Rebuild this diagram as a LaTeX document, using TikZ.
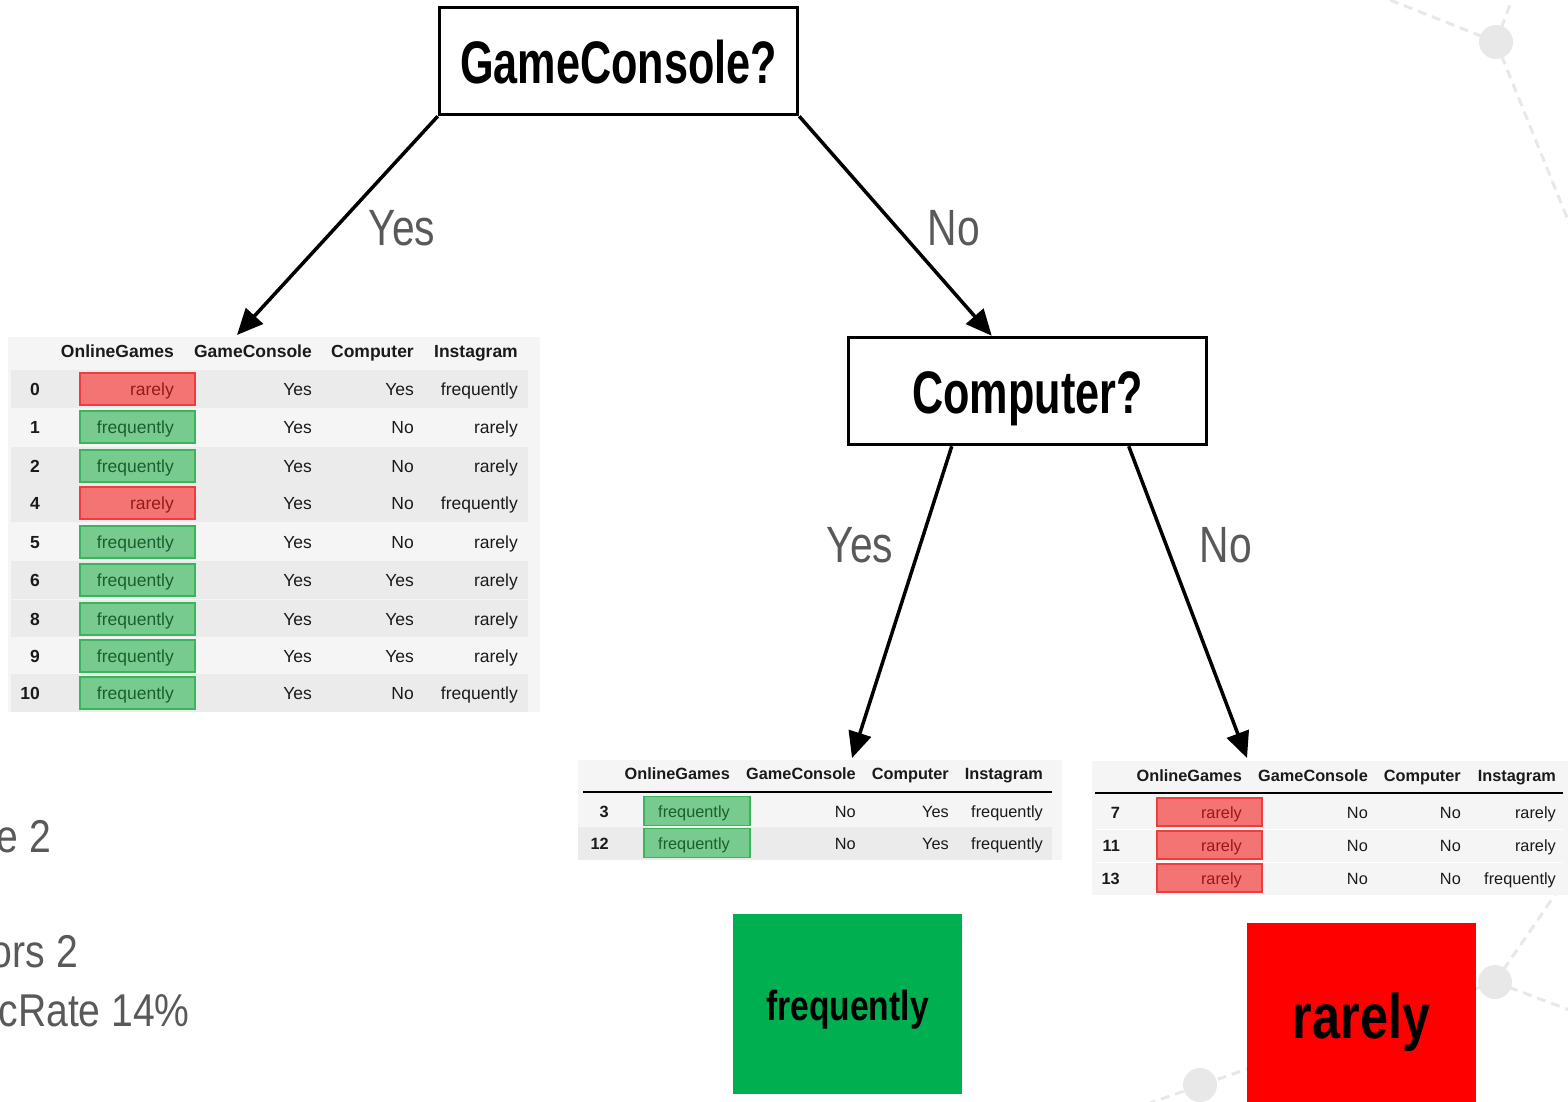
\documentclass[tikz,border=0pt]{standalone}
\usepackage{fontspec}
\setmainfont{Liberation Sans}
\newfontfamily\narrowfont[FakeStretch=0.72]{Liberation Sans}
\newfontfamily\labelfont[FakeStretch=0.8]{Liberation Sans}
\newfontfamily\notefont[FakeStretch=0.85]{Liberation Sans}
\newfontfamily\leaffont[FakeStretch=0.8]{Liberation Sans}
\usetikzlibrary{arrows.meta}

\definecolor{decogray}{HTML}{E8E8E8}
\definecolor{labelgray}{HTML}{595959}
\definecolor{bandd}{HTML}{EBEBEB}
\definecolor{bandl}{HTML}{F5F5F5}
\definecolor{redfill}{HTML}{F47373}
\definecolor{redline}{HTML}{F03C3C}
\definecolor{greenfill}{HTML}{78CB8F}
\definecolor{greenline}{HTML}{3BB55C}
\definecolor{txtrarely}{HTML}{951A1A}
\definecolor{txtfrequently}{HTML}{1C5E2E}
\definecolor{celltext}{HTML}{1A1A1A}
\definecolor{leafgreen}{HTML}{00B050}
\definecolor{leafred}{HTML}{FF0000}

\newcommand\tabfont{\fontsize{17.5}{20}\selectfont}

\begin{document}
\begin{tikzpicture}[x=1pt,y=-1pt,
  deco/.style={draw=decogray, line width=3pt, dash pattern=on 9pt off 6pt},
  decodot/.style={circle, fill=decogray, minimum size=34pt, inner sep=0pt},
  question/.style={draw=black, fill=white, line width=3.5pt, minimum width=358pt,
    minimum height=107pt, inner sep=0pt, text height=44pt, text depth=0pt,
    font=\narrowfont\bfseries\fontsize{60}{60}\selectfont},
  branch/.style={draw=black, line width=3.5pt, -{Triangle[length=26pt,width=23pt]}},
  branchlabel/.style={text=labelgray, anchor=base, inner sep=0pt,
    font=\labelfont\fontsize{51}{51}\selectfont},
  note/.style={text=labelgray, anchor=base east, inner sep=0pt,
    font=\notefont\fontsize{46}{46}\selectfont},
  leafbox/.style={inner sep=0pt, minimum width=229pt},
  leaftext/.style={anchor=base, inner sep=0pt, text=black},
  cell/.style={anchor=base east, inner sep=0pt, text=celltext, font=\tabfont},
  head/.style={cell, font=\tabfont\bfseries},
  idx/.style={cell, font=\tabfont\bfseries},
  box rarely/.style={draw=redline, fill=redfill, line width=1.2pt, inner sep=0pt},
  box frequently/.style={draw=greenline, fill=greenfill, line width=1.2pt, inner sep=0pt},
]
\useasboundingbox (0,0) rectangle (1568,1101);

% background network ornament
\draw[deco] (1496,42) -- (1380,-4);
\draw[deco] (1496,42) -- (1514,-6);
\draw[deco] (1496,42) -- (1576,240);
\draw[deco] (1495,982) -- (1572,870);
\draw[deco] (1495,982) -- (1580,1014);
\draw[deco] (1495,982) -- (1150,1103);
\node[decodot] (orn1) at (1496,42) {};
\node[decodot] (orn2) at (1495,982) {};
\node[decodot] (orn3) at (1200,1085) {};

% notes on the left margin
\node[note] (note1) at (51,852) {e 2};
\node[note] (note2) at (78,967) {ors 2};
\node[note] (note3) at (190,1026) {cRate 14\%};

% table: GameConsole = Yes
\begin{scope}
\fill[bandl] (8,337) rectangle (540,712);
\foreach \i/\yy/\c/\g/\p/\s/\b in {
  0/389/rarely/Yes/Yes/frequently/d,
  1/427/frequently/Yes/No/rarely/l,
  2/466/frequently/Yes/No/rarely/d,
  4/503/rarely/Yes/No/frequently/d,
  5/542/frequently/Yes/No/rarely/l,
  6/580/frequently/Yes/Yes/rarely/d,
  8/619/frequently/Yes/Yes/rarely/d,
  9/656/frequently/Yes/Yes/rarely/l,
  10/693/frequently/Yes/No/frequently/d} {
  \fill[band\b] (11,\yy-19) rectangle (528,\yy+19);
  \node[idx] (L\i-idx) at (40,\yy+6.5) {\i};
  \node[box \c, minimum width=115pt, minimum height=32pt] (L\i-box) at (137.5,\yy) {};
  \node[cell, text=txt\c] (L\i-og) at (174,\yy+6.5) {\c};
  \node[cell] (L\i-gc) at (312,\yy+6.5) {\g};
  \node[cell] (L\i-cp) at (414,\yy+6.5) {\p};
  \node[cell] (L\i-ig) at (518,\yy+6.5) {\s};
}
\node[head] (L-h-og) at (174,357) {OnlineGames};
\node[head] (L-h-gc) at (312,357) {GameConsole};
\node[head] (L-h-cp) at (414,357) {Computer};
\node[head] (L-h-ig) at (518,357) {Instagram};
\end{scope}

% table: GameConsole = No, Computer = Yes
\begin{scope}
\renewcommand\tabfont{\fontsize{16.3}{18}\selectfont}
\fill[bandl] (578,760) rectangle (1062,860);
\fill[bandd] (578,827) rectangle (1052,860);
\draw[line width=1.2pt, black] (583,792) -- (1052,792);
\foreach \i/\yy in {3/811, 12/843} {
  \node[idx] (M\i-idx) at (609,\yy+6) {\i};
  \node[box frequently, minimum width=106pt, minimum height=29pt] (M\i-box) at (697,\yy) {};
  \node[cell, text=txtfrequently] (M\i-og) at (730,\yy+6) {frequently};
  \node[cell] (M\i-gc) at (856,\yy+6) {No};
  \node[cell] (M\i-cp) at (949,\yy+6) {Yes};
  \node[cell] (M\i-ig) at (1043,\yy+6) {frequently};
}
\node[head] (M-h-og) at (730,779) {OnlineGames};
\node[head] (M-h-gc) at (856,779) {GameConsole};
\node[head] (M-h-cp) at (949,779) {Computer};
\node[head] (M-h-ig) at (1043,779) {Instagram};
\end{scope}

% table: GameConsole = No, Computer = No
\begin{scope}
\renewcommand\tabfont{\fontsize{16.3}{18}\selectfont}
\fill[bandl] (1092,761) rectangle (1568,895);
\draw[line width=1.2pt, black] (1095,793) -- (1563,793);
\draw[line width=0.8pt, white] (1095,829) -- (1563,829);
\draw[line width=0.8pt, white] (1095,862) -- (1563,862);
\foreach \i/\yy/\s in {7/812/rarely, 11/845/rarely, 13/878/frequently} {
  \node[idx] (R\i-idx) at (1120,\yy+6) {\i};
  \node[box rarely, minimum width=105pt, minimum height=28pt] (R\i-box) at (1209.5,\yy) {};
  \node[cell, text=txtrarely] (R\i-og) at (1242,\yy+6) {rarely};
  \node[cell] (R\i-gc) at (1368,\yy+6) {No};
  \node[cell] (R\i-cp) at (1461,\yy+6) {No};
  \node[cell] (R\i-ig) at (1556,\yy+6) {\s};
}
\node[head] (R-h-og) at (1242,781) {OnlineGames};
\node[head] (R-h-gc) at (1368,781) {GameConsole};
\node[head] (R-h-cp) at (1461,781) {Computer};
\node[head] (R-h-ig) at (1556,781) {Instagram};
\end{scope}

% leaves
\node[leafbox, fill=leafgreen, minimum height=180pt] (leafF) at (847.5,1004) {};
\node[leaftext, font=\leaffont\bfseries\fontsize{42}{42}\selectfont] (leafF-text) at (847.5,1020) {frequently};
\node[leafbox, fill=leafred, minimum height=182pt] (leafR) at (1361.5,1014) {};
\node[leaftext, font=\leaffont\bfseries\fontsize{63}{63}\selectfont] (leafR-text) at (1361.5,1038) {rarely};

% decision nodes
\node[question] (gc) at (618.5,61) {GameConsole?};
\node[question] (cp) at (1027.5,391) {Computer?};

% branch entry points of the subsets
\coordinate (subsetA) at (237,335);
\coordinate (subsetB) at (852,758);
\coordinate (subsetC) at (1247,758);

\draw[branch] (gc.south west) -- (subsetA);
\draw[branch] (gc.south east) -- ([xshift=145pt]cp.north west);
\draw[branch] ([xshift=105pt]cp.south west) -- (subsetB);
\draw[branch] ([xshift=282pt]cp.south west) -- (subsetC);

\node[branchlabel] (lblA) at (402,245) {Yes};
\node[branchlabel] (lblB) at (954,245) {No};
\node[branchlabel] (lblC) at (860,562) {Yes};
\node[branchlabel] (lblD) at (1226,562) {No};
\end{tikzpicture}
\end{document}
